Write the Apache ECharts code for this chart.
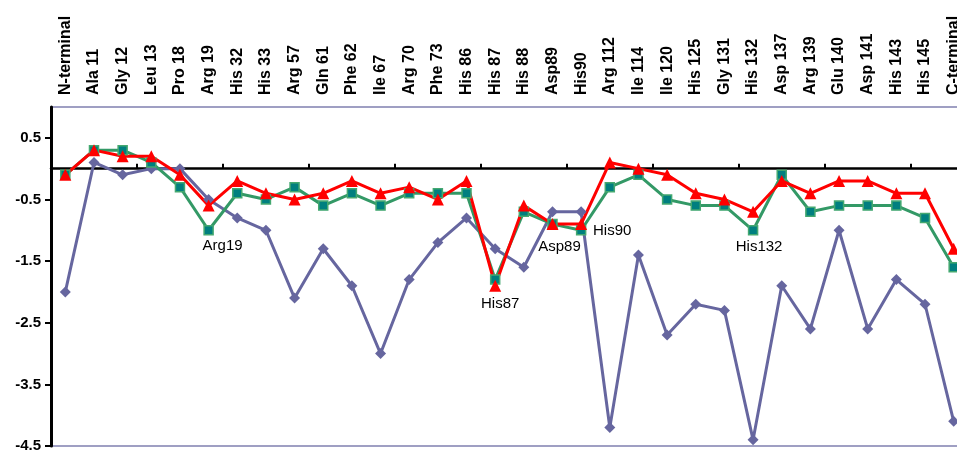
<!DOCTYPE html>
<html><head><meta charset="utf-8">
<script src="https://cdn.jsdelivr.net/npm/echarts@6/dist/echarts.min.js"></script>
<style>html,body{margin:0;padding:0;background:#fff}#c{width:957px;height:451px}</style>
</head><body><div id="c"></div>
<script>
const categories = ['N-terminal','Ala 11','Gly 12','Leu 13','Pro 18','Arg 19','His 32','His 33','Arg 57','Gln 61','Phe 62','Ile 67','Arg 70','Phe 73','His 86','His 87','His 88','Asp89','His90','Arg 112','Ile 114','Ile 120','His 125','Gly 131','His 132','Asp 137','Arg 139','Glu 140','Asp 141','His 143','His 145','C-terminal'];
const purpleValues = [-2.0,0.1,-0.1,0.0,0.0,-0.5,-0.8,-1.0,-2.1,-1.3,-1.9,-3.0,-1.8,-1.2,-0.8,-1.3,-1.6,-0.7,-0.7,-4.2,-1.4,-2.7,-2.2,-2.3,-4.4,-1.9,-2.6,-1.0,-2.6,-1.8,-2.2,-4.1];
const greenValues = [-0.1,0.3,0.3,0.1,-0.3,-1.0,-0.4,-0.5,-0.3,-0.6,-0.4,-0.6,-0.4,-0.4,-0.4,-1.8,-0.7,-0.9,-1.0,-0.3,-0.1,-0.5,-0.6,-0.6,-1.0,-0.1,-0.7,-0.6,-0.6,-0.6,-0.8,-1.6];
const redValues = [-0.1,0.3,0.2,0.2,-0.1,-0.6,-0.2,-0.4,-0.5,-0.4,-0.2,-0.4,-0.3,-0.5,-0.2,-1.9,-0.6,-0.9,-0.9,0.1,0.0,-0.1,-0.4,-0.5,-0.7,-0.2,-0.4,-0.2,-0.2,-0.4,-0.4,-1.3];
const yTickValues = [-4.5,-3.5,-2.5,-1.5,-0.5,0.5];
// annotation texts: [series, index, text]
const annotations = [['green',5,'Arg19'],['red',15,'His87'],['green',17,'Asp89'],['green',18,'His90'],['green',24,'His132']];
const annotationOffsets = {Arg19:[14,16],His87:[5,18],Asp89:[7,23],His90:[31,1],His132:[6,17]};

const FONT = '"Liberation Sans", Arial, Helvetica, sans-serif';
function withLabels(name, values){
  return values.map((v,i)=>{
    const a = annotations.find(x=>x[0]===name && x[1]===i);
    if(!a) return v;
    return {value:v, label:{show:true, formatter:a[2], position:'inside', offset:annotationOffsets[a[2]],
      color:'#000', fontSize:15, fontFamily:FONT, fontWeight:'normal'}};
  });
}

const chart = echarts.init(document.getElementById('c'), null, {renderer:'canvas'});
chart.setOption({
  animation:false,
  backgroundColor:'#fff',
  grid:{left:51, width:917, top:107, bottom:5, outerBoundsMode:'none', containLabel:false,
        show:true, borderColor:'#8080b0', borderWidth:1.5, backgroundColor:'transparent'},
  xAxis:[
    {type:'category', data:categories, position:'top', boundaryGap:true,
     axisLine:{show:false, onZero:false}, axisTick:{show:false},
     axisLabel:{interval:0, rotate:-90, margin:12, color:'#000', fontWeight:'bold', fontSize:16, fontFamily:FONT},
     splitLine:{show:false}},
    {type:'category', data:categories, position:'bottom', boundaryGap:true,
     axisLine:{show:true, onZero:true, lineStyle:{color:'#000', width:2.5}},
     axisTick:{show:true, inside:true, length:5, lineStyle:{color:'#000', width:2}},
     axisLabel:{show:false}, splitLine:{show:false}}
  ],
  yAxis:{type:'value', min:-4.5, max:1,
    axisLine:{show:true, onZero:false, lineStyle:{color:'#000', width:3}},
    axisTick:{show:true, inside:false, length:6, customValues:yTickValues, lineStyle:{color:'#000', width:2}},
    axisLabel:{customValues:yTickValues, formatter:v=>v.toFixed(1), margin:10, color:'#000', fontWeight:'bold', fontSize:15, fontFamily:FONT},
    splitLine:{show:false}},
  series:[
    {type:'line', name:'purple', data:withLabels('purple',purpleValues), xAxisIndex:0,
     symbol:'diamond', symbolSize:11, lineStyle:{color:'#66669f', width:3}, itemStyle:{color:'#66669f'}},
    {type:'line', name:'green', data:withLabels('green',greenValues), xAxisIndex:0,
     symbol:'rect', symbolSize:9, lineStyle:{color:'#339966', width:3}, itemStyle:{color:'#007f7f', borderColor:'#44a870', borderWidth:1.5}},
    {type:'line', name:'red', data:withLabels('red',redValues), xAxisIndex:0,
     symbol:'triangle', symbolSize:12, lineStyle:{color:'#ff0000', width:3}, itemStyle:{color:'#ff0000'}}
  ]
});
</script></body></html>
